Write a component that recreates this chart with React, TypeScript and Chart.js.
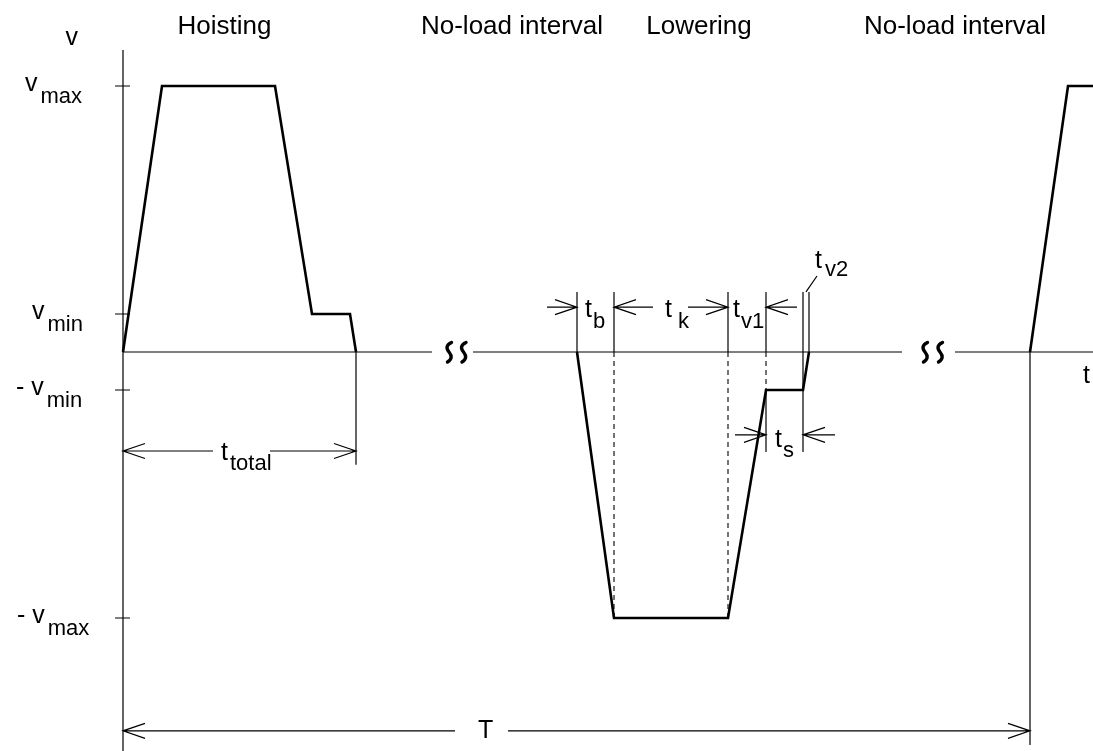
import { useEffect, useRef } from "react";
import { Chart, registerables } from "chart.js";
Chart.register(...registerables);

// ---- velocity levels (arbitrary units) ----
const V_MAX = 7;
const V_MIN = 1;

// ---- hoisting cycle (time, velocity) ----
const hoistT = [0, 3.9, 15.2, 18.9, 22.7, 23.3];
const hoistV = [0, V_MAX, V_MAX, V_MIN, V_MIN, 0];

// ---- lowering cycle ----
const lowerT = [45.4, 49.1, 60.5, 64.3, 68.0, 68.6];
const lowerV = [0, -V_MAX, -V_MAX, -V_MIN, -V_MIN, 0];

// ---- start of next cycle ----
const nextT = [90.7, 94.5, 99];
const nextV = [0, V_MAX, V_MAX];

// ---- phase titles ----
const phaseLabels = ["Hoisting", "No-load interval", "Lowering", "No-load interval"];
const phaseCenters = [10.15, 38.9, 57.6, 83.2];

// ---- y tick labels ----
const yTickValues = [V_MAX, V_MIN, -V_MIN, -V_MAX];
const yTickMain = ["v", "v", "- v", "- v"];
const yTickSub = ["max", "min", "min", "max"];
const yTickLeft = [-9.8, -9.1, -10.7, -10.6];

// ---- axis extents ----
const X_MIN = -12.3;
const X_MAX = 97.0;
const Y_MIN = -10.5;
const Y_MAX = 9.263;

// thin solid segments [t1, v1, t2, v2]
const solidSegments: number[][] = [
  [0, 0, 30.9, 0],
  [35.0, 0, 77.9, 0],
  [83.2, 0, 98, 0],
  [0, 7.95, 0, -10.7],
  ...yTickValues.map((v) => [-0.8, v, 0.7, v]),
  [23.3, 0, 23.3, -2.97],
  [45.4, 0, 45.4, 1.58],
  [49.1, 0, 49.1, 1.58],
  [60.5, 0, 60.5, 1.58],
  [64.3, 0, 64.3, 1.58],
  [64.3, -1, 64.3, -2.63],
  [68.0, 1.58, 68.0, -2.63],
  [68.6, 1.58, 68.6, 0],
  [68.3, 1.58, 69.4, 2.0],
  [90.7, 0, 90.7, -10.34],
];

// dashed projection lines
const dashedSegments: number[][] = [
  [49.1, 0, 49.1, -V_MAX],
  [60.5, 0, 60.5, -V_MAX],
  [64.3, 0, 64.3, -V_MIN],
];

// dimension arrows [fromT, toT, v] (head at toT)
const dimArrows: number[][] = [
  [9.0, 0, -2.605],
  [14.7, 23.3, -2.605],
  [33.2, 0, -9.97],
  [38.5, 90.7, -9.97],
  [42.4, 45.4, 1.18],
  [53.0, 49.1, 1.18],
  [56.5, 60.5, 1.18],
  [67.4, 64.3, 1.18],
  [61.2, 64.3, -2.18],
  [71.2, 68.0, -2.18],
];

// dimension labels: main, sub, left t, baseline v, sub gap px, sub drop px
const dimMain = ["t", "t", "t", "t", "t", "t", "T", "t"];
const dimSub = ["total", "b", " k", "v1", "s", "v2", "", ""];
const dimLeft = [9.8, 46.2, 54.2, 61.0, 65.2, 69.2, 35.5, 96.0];
const dimBase = [-2.84, 0.92, 0.92, 0.92, -2.5, 2.2, -10.16, -0.82];
const dimGap = [2, 1, 0, 1, 1, 3, 0, 0];
const dimDrop = [10, 11, 11, 11, 10, 8, 0, 0];

// break marks on the time axis
const squiggleT = [32.6, 34.05, 80.2, 81.7];

const FONT = '"Liberation Sans", Arial, Helvetica, sans-serif';

function segData(segs: number[][]) {
  const out: any[] = [];
  segs.forEach((s) => {
    out.push({ x: s[0], y: s[1] });
    out.push({ x: s[2], y: s[3] });
    out.push({ x: s[2], y: null });
  });
  return out;
}

const zip = (ts: number[], vs: number[]) => ts.map((t, i) => ({ x: t, y: vs[i] }));

const annotPlugin = {
  id: "annot",
  afterDatasetsDraw(chart: any) {
    const { ctx } = chart;
    const xs = chart.scales.x;
    const ys = chart.scales.y;
    const px = (t: number) => xs.getPixelForValue(t);
    const py = (v: number) => ys.getPixelForValue(v);
    ctx.save();
    ctx.strokeStyle = "#000";
    ctx.fillStyle = "#000";
    ctx.lineWidth = 1.2;

    // dimension arrows
    dimArrows.forEach(([a, b, v]) => {
      const x1 = px(a), x2 = px(b), yy = py(v);
      ctx.beginPath();
      ctx.moveTo(x1, yy);
      ctx.lineTo(x2, yy);
      const dir = x2 > x1 ? 1 : -1;
      ctx.moveTo(x2 - dir * 22, yy - 7.5);
      ctx.lineTo(x2, yy);
      ctx.lineTo(x2 - dir * 22, yy + 7.5);
      ctx.stroke();
    });

    // squiggles (break marks)
    ctx.lineWidth = 3.4;
    ctx.lineCap = "round";
    squiggleT.forEach((t) => {
      const cx = px(t), cy = py(0);
      ctx.beginPath();
      ctx.moveTo(cx + 2.5, cy - 9.5);
      ctx.quadraticCurveTo(cx - 5, cy - 6, cx, cy);
      ctx.quadraticCurveTo(cx + 5, cy + 6, cx - 1.5, cy + 10);
      ctx.stroke();
    });

    ctx.textBaseline = "alphabetic";
    // phase titles
    ctx.font = `26px ${FONT}`;
    ctx.textAlign = "center";
    phaseLabels.forEach((s, i) => ctx.fillText(s, px(phaseCenters[i]), py(8.37)));

    const drawSub = (main: string, sub: string, t: number, v: number, gap: number, drop: number) => {
      ctx.textAlign = "left";
      ctx.font = `25px ${FONT}`;
      const x0 = px(t), y0 = py(v);
      ctx.fillText(main, x0, y0);
      const w = ctx.measureText(main).width;
      if (sub) {
        ctx.font = `22px ${FONT}`;
        ctx.fillText(sub, x0 + w + gap, y0 + drop);
      }
    };

    // y labels
    drawSub("v", "", -5.75, 8.08, 0, 0);
    yTickValues.forEach((v, i) => {
      const base = v - 5 / 38;
      drawSub(yTickMain[i], yTickSub[i], yTickLeft[i], base, 3, 12);
    });

    // dimension labels
    dimMain.forEach((m, i) => drawSub(m, dimSub[i], dimLeft[i], dimBase[i], dimGap[i], dimDrop[i]));

    ctx.restore();
  },
};

export default function App() {
  const ref = useRef<HTMLCanvasElement | null>(null);
  useEffect(() => {
    document.body.style.margin = "0";
    const canvas = ref.current!;
    const chart = new Chart(canvas, {
      type: "line",
      data: {
        datasets: [
          {
            data: segData(solidSegments),
            borderColor: "#000",
            borderWidth: 1.2,
            pointRadius: 0,
            spanGaps: false,
          },
          {
            data: segData(dashedSegments),
            borderColor: "#000",
            borderWidth: 1.1,
            borderDash: [5, 4],
            pointRadius: 0,
            spanGaps: false,
          },
          {
            data: zip(hoistT, hoistV),
            borderColor: "#000",
            borderWidth: 2.6,
            pointRadius: 0,
          },
          {
            data: zip(lowerT, lowerV),
            borderColor: "#000",
            borderWidth: 2.6,
            pointRadius: 0,
          },
          {
            data: zip(nextT, nextV),
            borderColor: "#000",
            borderWidth: 2.6,
            pointRadius: 0,
          },
        ] as any,
      },
      options: {
        animation: false,
        responsive: false,
        devicePixelRatio: 1,
        layout: { padding: 0 },
        parsing: false as any,
        normalized: true,
        elements: { line: { tension: 0, borderJoinStyle: "miter", borderCapStyle: "butt" } },
        plugins: { legend: { display: false }, tooltip: { enabled: false }, title: { display: false } },
        events: [],
        scales: {
          x: { type: "linear", min: X_MIN, max: X_MAX, display: false },
          y: { type: "linear", min: Y_MIN, max: Y_MAX, display: false },
        },
      },
      plugins: [annotPlugin],
    });
    return () => chart.destroy();
  }, []);
  return (
    <div style={{ position: "fixed", left: 0, top: 0, width: 1093, height: 751, background: "#fff" }}>
      <canvas ref={ref} width={1093} height={751} style={{ width: 1093, height: 751, display: "block" }} />
    </div>
  );
}
